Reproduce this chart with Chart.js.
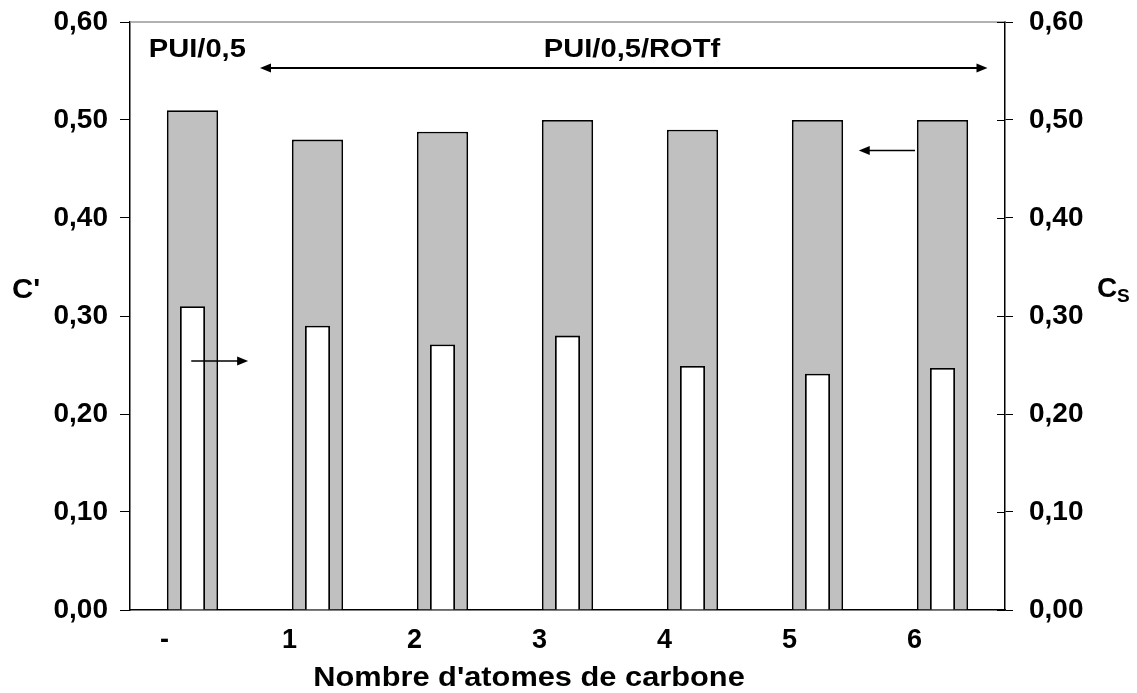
<!DOCTYPE html>
<html>
<head>
<meta charset="utf-8">
<script src="https://cdn.jsdelivr.net/npm/chart.js@4/dist/chart.umd.min.js"></script>
<style>
html,body{margin:0;padding:0;background:#fff;}
#wrap{width:1137px;height:693px;position:relative;}
</style>
</head>
<body>
<div id="wrap"><canvas id="c" width="1137" height="693"></canvas></div>
<script>
const categories = ['-', '1', '2', '3', '4', '5', '6'];
const cPrime = [0.51, 0.48, 0.488, 0.50, 0.49, 0.50, 0.50];
const cS = [0.31, 0.29, 0.271, 0.28, 0.249, 0.241, 0.247];
const yTicks = [0, 0.1, 0.2, 0.3, 0.4, 0.5, 0.6];
const yTitleLeft = "C'";
const yTitleRight = ['C', 'S'];
const xTitle = "Nombre d'atomes de carbone";
const groupLeft = 'PUI/0,5';
const groupRight = 'PUI/0,5/ROTf';

const FONT = 'Liberation Sans, Arial, sans-serif';
const fmt = v => Number(v).toFixed(2).replace('.', ',');

function arrowHead(ctx, x, y, dir) {
  const L = 11, W = 4.5;
  ctx.beginPath();
  ctx.moveTo(x, y);
  ctx.lineTo(x - dir * L, y - W);
  ctx.lineTo(x - dir * L, y + W);
  ctx.closePath();
  ctx.fill();
}

function stretchText(ctx, text, x, y, sx, align) {
  ctx.save();
  ctx.translate(x, y);
  ctx.scale(sx, 1);
  ctx.textAlign = align;
  ctx.fillText(text, 0, 0);
  ctx.restore();
}

const deco = {
  id: 'deco',
  afterDraw(chart) {
    const ctx = chart.ctx;
    const ca = chart.chartArea;
    const xs = chart.scales.x, yl = chart.scales.y, yr = chart.scales.y2;
    ctx.save();
    // top border
    ctx.strokeStyle = '#999';
    ctx.lineWidth = 1.5;
    ctx.beginPath();
    ctx.moveTo(ca.left, ca.top);
    ctx.lineTo(ca.right, ca.top);
    ctx.stroke();
    // inner ticks on right axis
    ctx.strokeStyle = '#000';
    ctx.lineWidth = 1;
    yTicks.forEach(v => {
      const y = Math.round(yr.getPixelForValue(v)) + 0.5;
      ctx.beginPath();
      ctx.moveTo(ca.right - 8, y);
      ctx.lineTo(ca.right, y);
      ctx.stroke();
    });
    ctx.fillStyle = '#000';
    ctx.strokeStyle = '#000';
    // double arrow
    const ya = yl.getPixelForValue(0.553);
    const xa1 = xs.getPixelForValue(0.54), xa2 = xs.getPixelForValue(6.36);
    ctx.lineWidth = 2;
    ctx.beginPath();
    ctx.moveTo(xa1 + 6, ya); ctx.lineTo(xa2 - 6, ya); ctx.stroke();
    arrowHead(ctx, xa1, ya, -1);
    arrowHead(ctx, xa2, ya, 1);
    // small arrow to right axis
    ctx.lineWidth = 1.5;
    const yb = yl.getPixelForValue(0.254);
    const xb1 = xs.getPixelForValue(-0.01), xb2 = xs.getPixelForValue(0.445);
    ctx.beginPath(); ctx.moveTo(xb1, yb); ctx.lineTo(xb2 - 6, yb); ctx.stroke();
    arrowHead(ctx, xb2, yb, 1);
    // small arrow to left axis
    const yc = yl.getPixelForValue(0.469);
    const xc1 = xs.getPixelForValue(5.78), xc2 = xs.getPixelForValue(5.33);
    ctx.beginPath(); ctx.moveTo(xc1, yc); ctx.lineTo(xc2 + 6, yc); ctx.stroke();
    arrowHead(ctx, xc2, yc, -1);
    // group labels
    ctx.font = 'bold 26px ' + FONT;
    ctx.textBaseline = 'alphabetic';
    const yt = yl.getPixelForValue(0.564);
    stretchText(ctx, groupLeft, xs.getPixelForValue(-0.35), yt, 1.12, 'left');
    stretchText(ctx, groupRight, xs.getPixelForValue(3.516), yt, 1.12, 'center');
    // axis titles
    ctx.font = 'bold 28px ' + FONT;
    stretchText(ctx, yTitleLeft, 12, 298, 1.05, 'left');
    ctx.save();
    ctx.translate(1097, 297);
    ctx.textAlign = 'left';
    ctx.fillText(yTitleRight[0], 0, 0);
    ctx.font = 'bold 19px ' + FONT;
    ctx.fillText(yTitleRight[1], 20, 5);
    ctx.restore();
    ctx.font = 'bold 27px ' + FONT;
    stretchText(ctx, xTitle, 529, 686, 1.14, 'center');
    ctx.restore();
  }
};

function fitVertical(width) {
  return function (s) {
    s.width = width;
    s.paddingTop = 0;
    s.paddingBottom = 0;
  };
}

new Chart(document.getElementById('c'), {
  type: 'bar',
  data: {
    labels: categories,
    datasets: [
      {
        label: 'Cs',
        data: cS,
        yAxisID: 'y2',
        backgroundColor: '#ffffff',
        borderColor: '#000000',
        borderWidth: 1.8,
        barPercentage: 0.2,
        categoryPercentage: 1,
        order: 0
      },
      {
        label: "C'",
        data: cPrime,
        yAxisID: 'y',
        backgroundColor: '#c0c0c0',
        borderColor: '#000000',
        borderWidth: 1.8,
        barPercentage: 0.41,
        categoryPercentage: 1,
        order: 1
      }
    ]
  },
  options: {
    responsive: false,
    animation: false,
    devicePixelRatio: 1,
    layout: { padding: { top: 22, left: 0, right: 0, bottom: 0 } },
    plugins: { legend: { display: false }, tooltip: { enabled: false }, title: { display: false } },
    datasets: { bar: { grouped: false } },
    scales: {
      x: {
        type: 'category',
        offset: true,
        grid: { display: false, drawTicks: false },
        border: { display: true, color: '#000', width: 1.5 },
        ticks: {
          color: '#000',
          font: { family: FONT, size: 27, weight: 'bold' },
          padding: 14,
          labelOffset: -28,
          maxRotation: 0,
          autoSkip: false
        },
        afterFit(s) { s.height = 83; s.paddingLeft = 0; s.paddingRight = 0; }
      },
      y: {
        position: 'left',
        min: 0, max: 0.6,
        afterBuildTicks(s) { s.ticks = yTicks.map(v => ({ value: v })); },
        grid: { drawOnChartArea: false, tickLength: 10, color: '#000', tickColor: '#000' },
        border: { display: true, color: '#000', width: 1.5 },
        ticks: {
          color: '#000',
          font: { family: FONT, size: 28, weight: 'bold' },
          padding: 12,
          callback: v => fmt(v)
        },
        afterFit: fitVertical(130)
      },
      y2: {
        position: 'right',
        min: 0, max: 0.6,
        afterBuildTicks(s) { s.ticks = yTicks.map(v => ({ value: v })); },
        grid: { drawOnChartArea: false, tickLength: 8, color: '#000', tickColor: '#000' },
        border: { display: true, color: '#000', width: 1.5 },
        ticks: {
          color: '#000',
          font: { family: FONT, size: 28, weight: 'bold' },
          padding: 16,
          callback: v => fmt(v)
        },
        afterFit: fitVertical(132)
      }
    }
  },
  plugins: [deco]
});
</script>
</body>
</html>
